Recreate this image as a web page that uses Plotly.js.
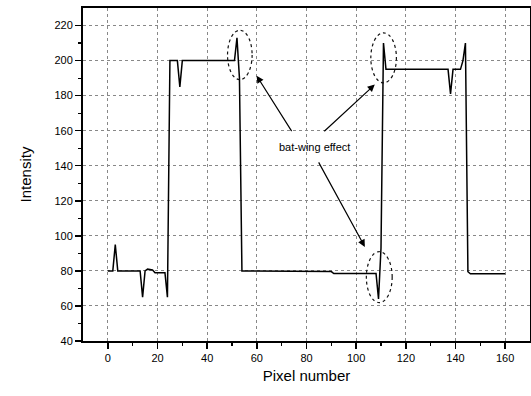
<!DOCTYPE html>
<html>
<head>
<meta charset="utf-8">
<script src="https://cdn.plot.ly/plotly-3.0.1.min.js"></script>
<style>html,body{margin:0;padding:0;background:#fff;}#chart{width:531px;height:396px;}</style>
</head>
<body>
<div id="chart"></div>
<script>
// Pixel positions (breakpoints of the intensity profile)
var pixelNumber = [0, 2, 3, 4, 13, 14, 15, 16, 18, 19, 23, 24, 25, 28, 29, 30, 51, 52, 53, 54, 90, 91, 108, 109, 110, 111, 112, 137, 138, 139, 142, 143, 144, 145, 146, 160];
var intensity   = [80, 80, 95, 80, 80, 65, 80, 81, 80.5, 79, 79, 65, 200, 200, 185, 200, 200, 213, 190, 80, 79.6, 78.5, 78.5, 64, 93, 210, 195, 195, 181, 195, 195, 200, 210, 79.5, 78.3, 78.3];

var xTicks = [0, 20, 40, 60, 80, 100, 120, 140, 160];
var yTicks = [40, 60, 80, 100, 120, 140, 160, 180, 200, 220];
var annotationText = "bat-wing effect";

var trace = {
  x: pixelNumber, y: intensity, type: 'scatter', mode: 'lines',
  line: {color: '#000', width: 1.5}, hoverinfo: 'none', showlegend: false
};

function ell(x0, x1, y0, y1) {
  return {type: 'circle', xref: 'x', yref: 'y', x0: x0, x1: x1, y0: y0, y1: y1,
          line: {color: '#111', width: 1.2, dash: 'dot'}};
}
function arrow(x, y, ax, ay) {
  return {x: x, y: y, xref: 'x', yref: 'y', ax: ax, ay: ay, text: '', showarrow: true,
          arrowhead: 2, arrowsize: 1.2, arrowwidth: 1.2, arrowcolor: '#000'};
}

var layout = {
  width: 531, height: 396,
  margin: {l: 83, r: 1, t: 8, b: 55},
  paper_bgcolor: '#fff', plot_bgcolor: '#fff',
  font: {family: 'Liberation Sans, Arial, sans-serif', color: '#000', size: 11},
  xaxis: {
    range: [-10, 170], tickvals: xTicks, ticktext: xTicks.map(String),
    ticks: 'outside', ticklen: 6, tickwidth: 1.5, tickcolor: '#000',
    minor: {tickvals: [10, 30, 50, 70, 90, 110, 130, 150], ticks: 'outside', ticklen: 3, tickwidth: 1.2, tickcolor: '#000', showgrid: false},
    showline: true, linecolor: '#000', linewidth: 2, mirror: true,
    showgrid: true, gridcolor: '#888', griddash: 'dot', gridwidth: 1,
    zeroline: false, tickfont: {size: 11},
    title: {text: 'Pixel number', font: {size: 15}, standoff: 7}
  },
  yaxis: {
    range: [40, 230], tickvals: yTicks, ticktext: yTicks.map(String),
    ticks: 'outside', ticklen: 6, tickwidth: 1.5, tickcolor: '#000',
    minor: {tickvals: [50, 70, 90, 110, 130, 150, 170, 190, 210], ticks: 'outside', ticklen: 3, tickwidth: 1.2, tickcolor: '#000', showgrid: false},
    showline: true, linecolor: '#000', linewidth: 2, mirror: true,
    showgrid: true, gridcolor: '#888', griddash: 'dot', gridwidth: 1,
    zeroline: false, tickfont: {size: 11},
    title: {text: 'Intensity', font: {size: 15}, standoff: 19}
  },
  shapes: [
    ell(48.2, 58.1, 189.1, 217.3),
    ell(105.9, 116.2, 187.3, 215.8),
    ell(104.1, 114.5, 61.9, 91.0)
  ],
  annotations: [
    {x: 83.3, y: 150.9, xref: 'x', yref: 'y', text: annotationText, showarrow: false, font: {size: 11}},
    arrow(59.9, 191.4, 36, 57),
    arrow(107.5, 186.3, -52, 48),
    arrow(103.5, 93.7, -47, -86)
  ]
};

Plotly.newPlot('chart', [trace], layout, {displayModeBar: false, staticPlot: true});
</script>
</body>
</html>
